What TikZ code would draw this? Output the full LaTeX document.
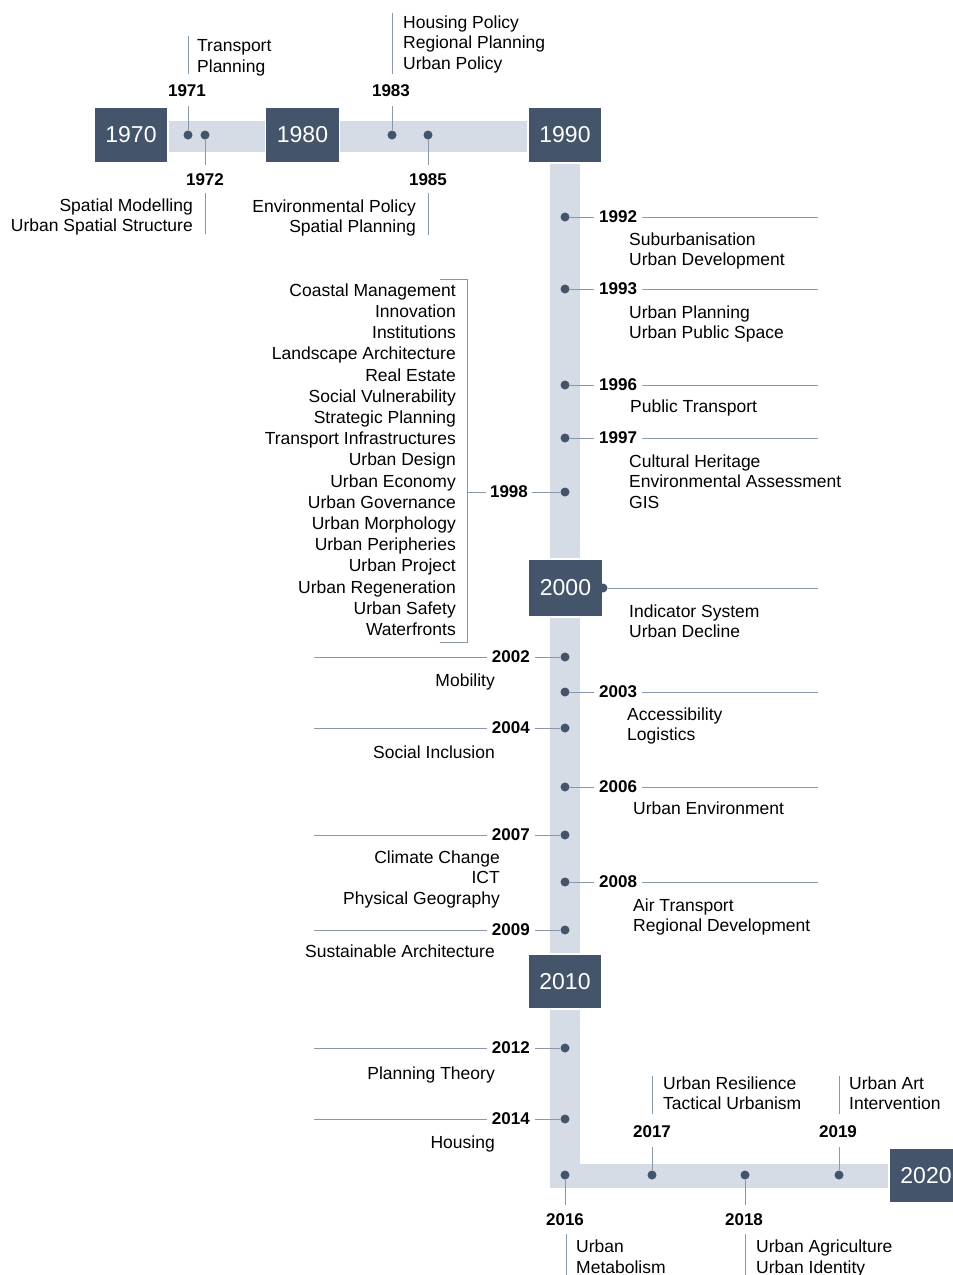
\documentclass[tikz,border=0pt]{standalone}
\usepackage{fontspec}
\setmainfont{Liberation Sans}
\definecolor{boxc}{HTML}{44546A}
\definecolor{barc}{HTML}{D6DCE5}
\definecolor{linec}{HTML}{8A96AA}
\newcommand{\RightEv}[5]{%
  \node[dot] (d#1) at (565,#2) {};
  \node[yr,anchor=west] (l#1) at (594,#2) {#1};
  \coordinate (e#1) at (818,#2);
  \draw[conn] (d#1) -- (l#1);
  \draw[conn] (l#1) -- (e#1);
  \node[txt,anchor=north west,align=left] (t#1) at (#3,#4-6.5) {#5};
}
\newcommand{\LeftEv}[5]{%
  \node[dot] (d#1) at (565,#2) {};
  \node[yr,anchor=east] (l#1) at (535,#2) {#1};
  \coordinate (s#1) at (314,#2);
  \draw[conn] (d#1) -- (l#1);
  \draw[conn] (l#1) -- (s#1);
  \node[txt,anchor=north east,align=right] (t#1) at (#3,#4-6.5) {#5};
}
\begin{document}
\begin{tikzpicture}[x=1pt,y=-1pt,
  yearbox/.style={fill=boxc,draw=white,line width=1.5pt,minimum width=74pt,minimum height=56pt,text=white,font=\fontsize{23}{27}\selectfont,inner sep=0},
  dot/.style={circle,fill=boxc,minimum size=9pt,inner sep=0},
  yr/.style={font=\fontsize{17}{20}\selectfont\bfseries,inner xsep=5pt,inner ysep=9pt},
  txt/.style={font=\fontsize{17.5}{20.5}\selectfont,inner sep=0},
  conn/.style={draw=linec,line width=1pt},
]
\useasboundingbox[fill=white] (0,0) rectangle (953,1275);

% bars
\fill[barc] (131,121) rectangle (565,152);
\fill[barc] (550,135) rectangle (580,1188);
\fill[barc] (550,1164) rectangle (926,1188);

% decade boxes
\node[yearbox] (y1970) at (131,135) {1970};
\node[yearbox] (y1980) at (302.5,135) {1980};
\node[yearbox] (y1990) at (565,135) {1990};
\node[yearbox,minimum height=58pt] (y2000) at (565.5,588) {2000};
\node[yearbox,minimum height=55pt] (y2010) at (565,981.5) {2010};
\node[yearbox,minimum height=55pt] (y2020) at (926,1175.5) {2020};

% 1971
\node[dot] (d1971) at (188,135) {};
\node[yr] (l1971) at (187,91) {1971};
\draw[conn] (d1971) -- (d1971 |- l1971.south);
\coordinate (a1971) at (188,74); \coordinate (b1971) at (188,36);
\draw[conn] (a1971) -- (b1971);
\node[txt,anchor=north west,align=left] (t1971) at (197,39.5) {Transport\\Planning};

% 1972
\node[dot] (d1972) at (205,135) {};
\node[yr] (l1972) at (205,180) {1972};
\draw[conn] (d1972) -- (d1972 |- l1972.north);
\coordinate (a1972) at (205,193); \coordinate (b1972) at (205,234);
\draw[conn] (a1972) -- (b1972);
\node[txt,anchor=north east,align=right] (t1972) at (193,198.5) {Spatial Modelling\\Urban Spatial Structure};

% 1983
\node[dot] (d1983) at (392,135) {};
\node[yr] (l1983) at (391,91) {1983};
\draw[conn] (d1983) -- (d1983 |- l1983.south);
\coordinate (a1983) at (392,74); \coordinate (b1983) at (392,13);
\draw[conn] (a1983) -- (b1983);
\node[txt,anchor=north west,align=left] (t1983) at (403,15.5) {Housing Policy\\Regional Planning\\Urban Policy};

% 1985
\node[dot] (d1985) at (428,135) {};
\node[yr] (l1985) at (428,180) {1985};
\draw[conn] (d1985) -- (d1985 |- l1985.north);
\coordinate (a1985) at (428,193); \coordinate (b1985) at (428,235);
\draw[conn] (a1985) -- (b1985);
\node[txt,anchor=north east,align=right] (t1985) at (416,199.5) {Environmental Policy\\Spatial Planning};

% right side events
\RightEv{1992}{217}{629}{239}{Suburbanisation\\Urban Development}
\RightEv{1993}{289}{629}{312}{Urban Planning\\Urban Public Space}
\RightEv{1996}{385}{630}{406}{Public Transport}
\RightEv{1997}{438}{629}{461}{Cultural Heritage\\Environmental Assessment\\GIS}
\RightEv{2003}{692}{627}{714}{Accessibility\\Logistics}
\RightEv{2006}{787}{633}{808}{Urban Environment}
\RightEv{2008}{882}{633}{905}{Air Transport\\Regional Development}

% 2000
\node[dot] (d2000) at (603,588) {};
\coordinate (e2000) at (818,588);
\draw[conn] (d2000) -- (e2000);
\node[txt,anchor=north west,align=left] (t2000) at (629,604.5) {Indicator System\\Urban Decline};

% 1998
\node[dot] (d1998) at (565,492) {};
\node[yr,inner xsep=4pt] (l1998) at (509,492) {1998};
\coordinate (b1998) at (467,492);
\draw[conn] (d1998) -- (l1998);
\draw[conn] (l1998) -- (b1998);
\coordinate (bt1) at (440,279); \coordinate (bt2) at (467,279);
\coordinate (bb1) at (440,642); \coordinate (bb2) at (467,642);
\draw[conn] (bt1) -- (bt2) -- (bb2) -- (bb1);
\node[txt,anchor=north east,align=right,font=\fontsize{17.5}{21.2}\selectfont] (t1998) at (456,283.5)
 {Coastal Management\\Innovation\\Institutions\\Landscape Architecture\\Real Estate\\Social Vulnerability\\Strategic Planning\\Transport Infrastructures\\Urban Design\\Urban Economy\\Urban Governance\\Urban Morphology\\Urban Peripheries\\Urban Project\\Urban Regeneration\\Urban Safety\\Waterfronts};

% left side events
\LeftEv{2002}{657}{495}{680}{Mobility}
\LeftEv{2004}{728}{495}{752}{Social Inclusion}
\LeftEv{2007}{835}{500}{857}{Climate Change\\ICT\\Physical Geography}
\LeftEv{2009}{930}{495}{951}{Sustainable Architecture}
\LeftEv{2012}{1048}{495}{1073}{Planning Theory}
\LeftEv{2014}{1119}{495}{1142}{Housing}

% 2016
\node[dot] (d2016) at (565,1175) {};
\node[yr] (l2016) at (565,1220) {2016};
\draw[conn] (d2016) -- (d2016 |- l2016.north);
\coordinate (a2016) at (566,1234); \coordinate (b2016) at (566,1275);
\draw[conn] (a2016) -- (b2016);
\node[txt,anchor=north west,align=left] (t2016) at (576,1240) {Urban\\Metabolism};

% 2017
\node[dot] (d2017) at (652,1175) {};
\node[yr] (l2017) at (652,1132) {2017};
\draw[conn] (d2017) -- (d2017 |- l2017.south);
\coordinate (a2017) at (652,1114); \coordinate (b2017) at (652,1076);
\draw[conn] (a2017) -- (b2017);
\node[txt,anchor=north west,align=left] (t2017) at (663,1076.5) {Urban Resilience\\Tactical Urbanism};

% 2018
\node[dot] (d2018) at (745,1175) {};
\node[yr] (l2018) at (744,1220) {2018};
\draw[conn] (d2018) -- (d2018 |- l2018.north);
\coordinate (a2018) at (745,1234); \coordinate (b2018) at (745,1275);
\draw[conn] (a2018) -- (b2018);
\node[txt,anchor=north west,align=left] (t2018) at (756,1240) {Urban Agriculture\\Urban Identity};

% 2019
\node[dot] (d2019) at (839,1175) {};
\node[yr] (l2019) at (838,1132) {2019};
\draw[conn] (d2019) -- (d2019 |- l2019.south);
\coordinate (a2019) at (839,1114); \coordinate (b2019) at (839,1076);
\draw[conn] (a2019) -- (b2019);
\node[txt,anchor=north west,align=left] (t2019) at (849,1076.5) {Urban Art\\Intervention};
\end{tikzpicture}
\end{document}
